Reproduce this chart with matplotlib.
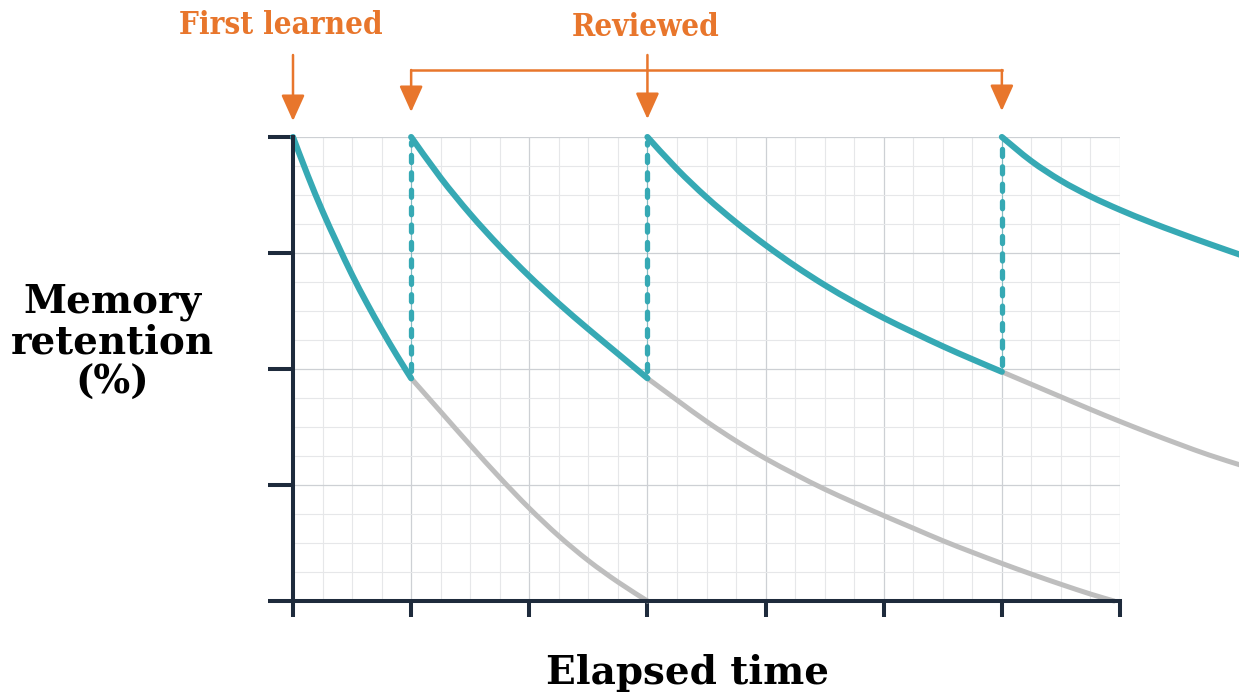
import numpy as np
import matplotlib
matplotlib.use("Agg")
import matplotlib.pyplot as plt
from matplotlib.path import Path
from matplotlib.patches import PathPatch

# ---------------- data ----------------
review_times = [0, 1, 3, 6]          # first learned + three reviews
y_ticks = [0, 25, 50, 75, 100]
x_ticks = [0, 1, 2, 3, 4, 5, 6, 7]

# teal: retention after each learning / review
t_teal1 = [0, 0.125, 0.25, 0.375, 0.5, 0.625, 0.75, 0.875, 1.0]
r_teal1 = [100, 91.7, 84, 77, 70.3, 64.2, 58.5, 53.1, 48]
t_teal2 = [1.0, 1.25, 1.5, 1.75, 2.0, 2.25, 2.5, 2.75, 3.0]
r_teal2 = [100, 91.2, 83.4, 76.4, 70.0, 64.1, 58.6, 53.3, 48]
t_teal3 = [3.0, 3.25, 3.5, 3.75, 4.0, 4.25, 4.5, 4.75, 5.0, 5.25, 5.5, 5.75, 6.0]
r_teal3 = [100, 93.1, 87.0, 81.6, 76.7, 72.2, 68.1, 64.4, 61.0, 57.9, 54.9, 52.1, 49.4]
t_teal4 = [6.0, 6.25, 6.5, 6.75, 7.0, 7.25, 7.5, 7.75, 8.02]
r_teal4 = [100, 94.8, 90.6, 87.2, 84.3, 81.7, 79.3, 77, 74.6]

# grey: forgetting without review
t_gray1 = [1.0, 1.25, 1.5, 1.75, 2.0, 2.25, 2.5, 2.75, 3.0]
r_gray1 = [48, 40.8, 33.6, 26.6, 20.0, 14.0, 8.7, 4.1, 0]
t_gray2 = [3.0, 3.25, 3.5, 3.75, 4.0, 4.25, 4.5, 4.75, 5.0, 5.25, 5.5, 5.75,
           6.0, 6.25, 6.5, 6.75, 6.95]
r_gray2 = [48, 43.3, 38.7, 34.5, 30.7, 27.3, 24.1, 21.2, 18.4, 15.7, 13.0, 10.5,
           8.1, 5.8, 3.6, 1.5, 0]
t_gray3 = [6.0, 6.25, 6.5, 6.75, 7.0, 7.25, 7.5, 7.75, 8.02]
r_gray3 = [49.4, 46.7, 44, 41.3, 38.7, 36.2, 33.8, 31.5, 29.3]

teal_t = [t_teal1, t_teal2, t_teal3, t_teal4]
teal_r = [r_teal1, r_teal2, r_teal3, r_teal4]
gray_t = [t_gray1, t_gray2, t_gray3]
gray_r = [r_gray1, r_gray2, r_gray3]

label_first = "First learned"
label_review = "Reviewed"
label_y = "Memory\nretention\n(%)"
label_x = "Elapsed time"

# ---------------- style ----------------
TEAL = "#36A9B4"
GRAY = "#BEBEBE"
NAVY = "#1E2B3C"
ORANGE = "#E8762C"

W, H = 1239, 697
fig = plt.figure(figsize=(W / 100, H / 100), dpi=100)
ax = fig.add_axes([293 / W, 96 / H, 827 / W, 464 / H])
ax.set_xlim(0, 7)
ax.set_ylim(0, 100)

ax.set_xticks(x_ticks)
ax.set_xticks(np.arange(0, 7.001, 0.25), minor=True)
ax.set_yticks(y_ticks)
ax.set_yticks(np.arange(0, 100.001, 6.25), minor=True)
ax.grid(which="minor", color="#E6E7E9", lw=0.8)
ax.grid(which="major", color="#CDD0D4", lw=0.9)
ax.set_axisbelow(True)
ax.tick_params(which="minor", length=0)
ax.tick_params(axis="y", which="major", length=18, width=2.9, color=NAVY,
               labelleft=False)
ax.tick_params(axis="x", which="major", length=11.5, width=2.9, color=NAVY,
               labelbottom=False)
for s in ("top", "right"):
    ax.spines[s].set_visible(False)
for s in ("left", "bottom"):
    ax.spines[s].set_color(NAVY)
    ax.spines[s].set_linewidth(2.9)
    ax.spines[s].set_zorder(5)


def smooth_curve(t, r, **kw):
    """Draw a smooth line through the given points (Catmull-Rom as Bezier)."""
    p = np.column_stack([t, r]).astype(float)
    ext = np.vstack([p[0], p, p[-1]])
    verts = [p[0]]
    codes = [Path.MOVETO]
    for i in range(len(p) - 1):
        p0, p1, p2, p3 = ext[i], ext[i + 1], ext[i + 2], ext[i + 3]
        c1 = p1 + (p2 - p0) / 6.0
        c2 = p2 - (p3 - p1) / 6.0
        verts += [c1, c2, p2]
        codes += [Path.CURVE4] * 3
    patch = PathPatch(Path(verts, codes), fill=False, clip_on=False,
                      capstyle="round", joinstyle="round", **kw)
    ax.add_patch(patch)


# grey forgetting curves
for t, r in zip(gray_t, gray_r):
    smooth_curve(t, r, edgecolor=GRAY, lw=3.6, zorder=2)

# dashed review jumps
for t, r in zip(teal_t[:-1], teal_r[:-1]):
    ax.plot([t[-1], t[-1]], [r[-1], 100], color=TEAL, lw=0.8, alpha=0.5,
            clip_on=False, zorder=3)
    ax.plot([t[-1], t[-1]], [r[-1] + 1.5, 99], color=TEAL, lw=3.8,
            dashes=(1.35, 1.95), dash_capstyle="round", clip_on=False, zorder=3)

# teal retention curves
for t, r in zip(teal_t, teal_r):
    smooth_curve(t, r, edgecolor=TEAL, lw=4.4, zorder=4)

# ---------------- annotations ----------------
trans = ax.get_xaxis_transform()


def yfrac(py):
    return (601 - py) / 464


aprops = dict(arrowstyle="-|>,head_length=0.8,head_width=0.36", color=ORANGE,
              lw=1.8, mutation_scale=20, shrinkA=0, shrinkB=0)

ax.annotate("", xy=(review_times[0], yfrac(121)), xytext=(review_times[0], yfrac(55)),
            xycoords=trans, textcoords=trans, arrowprops=aprops,
            annotation_clip=False)
ax.plot([review_times[1], review_times[3]], [yfrac(70), yfrac(70)],
        transform=trans, color=ORANGE, lw=1.8, clip_on=False,
        solid_capstyle="projecting")
ax.annotate("", xy=(review_times[1], yfrac(112)), xytext=(review_times[1], yfrac(70)),
            xycoords=trans, textcoords=trans, arrowprops=aprops,
            annotation_clip=False)
ax.annotate("", xy=(review_times[2], yfrac(119)), xytext=(review_times[2], yfrac(55)),
            xycoords=trans, textcoords=trans, arrowprops=aprops,
            annotation_clip=False)
ax.annotate("", xy=(review_times[3], yfrac(111)), xytext=(review_times[3], yfrac(70)),
            xycoords=trans, textcoords=trans, arrowprops=aprops,
            annotation_clip=False)

ofont = dict(family="DejaVu Serif", fontstretch="condensed", weight="bold",
             color=ORANGE, fontsize=22.5)
fig.text(281 / W, 1 - 34 / H, label_first, ha="center", va="baseline", **ofont)
fig.text(646 / W, 1 - 36 / H, label_review, ha="center", va="baseline", **ofont)

lfont = dict(family="DejaVu Serif", weight="bold", color="black", fontsize=28)
fig.text(112 / W, 1 - 342 / H, label_y, ha="center", va="center",
         multialignment="center", linespacing=1.08, **lfont)
fig.text(688 / W, 1 - 684 / H, label_x, ha="center", va="baseline", **lfont)

fig.savefig("out.png", dpi=100, facecolor="white")
